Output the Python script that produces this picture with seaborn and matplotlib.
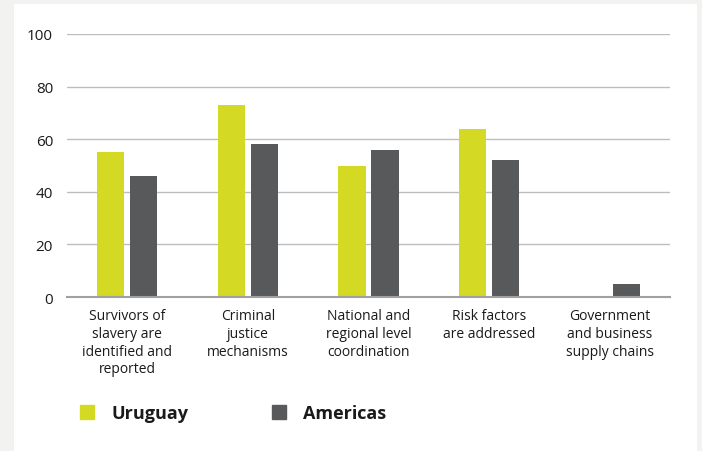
import matplotlib
matplotlib.use("Agg")
from matplotlib import pyplot as plt
from matplotlib.lines import Line2D
from matplotlib.patches import Rectangle
import pandas as pd
import seaborn as sns

categories = ["Survivors of\nslavery are\nidentified and\nreported",
              "Criminal\njustice\nmechanisms",
              "National and\nregional level\ncoordination",
              "Risk factors\nare addressed",
              "Government\nand business\nsupply chains"]
uruguay = [55, 73, 50, 64, 0]
americas = [46, 58, 56, 52, 5]
series = ["Uruguay", "Americas"]
colors = ["#d4da23", "#58595b"]

df = pd.DataFrame({
    "category": categories * 2,
    "value": uruguay + americas,
    "series": [series[0]] * 5 + [series[1]] * 5,
})

sns.set_style("white")
plt.rcParams["font.family"] = ["Open Sans", "DejaVu Sans"]

fig = plt.figure(figsize=(7.02, 4.52), dpi=100, facecolor="#f2f2f1")
fig.patches.append(Rectangle((14 / 702, 0), 683 / 702, 1 - 5 / 452,
                             transform=fig.transFigure, facecolor="white",
                             edgecolor="none", zorder=-10))
ax = fig.add_axes([67 / 702, 1 - 298 / 452, 603 / 702, 263 / 452])
ax.set_facecolor("none")

sns.barplot(data=df, x="category", y="value", hue="series",
            palette=colors, width=0.547, gap=0.18, ax=ax, legend=False,
            saturation=1, linewidth=0)

ax.set_ylim(0, 100)
ax.set_xlim(-0.5, 4.5)
ax.set_yticks(range(0, 101, 20))
ax.yaxis.grid(True, color="#bdbdbd", linewidth=1)
ax.set_axisbelow(True)
for s in ["top", "right", "left"]:
    ax.spines[s].set_visible(False)
ax.spines["bottom"].set_color("#a0a0a0")
ax.spines["bottom"].set_linewidth(1.5)
ax.set_xlabel("")
ax.set_ylabel("")
ax.tick_params(axis="y", length=0, pad=10, labelsize=11, labelcolor="#1a1a1a")
ax.tick_params(axis="x", length=0, pad=8, labelsize=10, labelcolor="#1a1a1a")
for lbl in ax.get_xticklabels():
    lbl.set_linespacing(1.25)

handles = [Line2D([], [], marker="s", linestyle="none", markersize=10,
                  markerfacecolor=c, markeredgecolor=c) for c in colors]
leg = fig.legend(handles, series, loc="center left",
                 bbox_to_anchor=(53 / 702, 1 - 414 / 452), ncol=2,
                 frameon=False, handletextpad=0.33, columnspacing=4.03,
                 prop={"size": 13, "weight": "bold"})
for t in leg.get_texts():
    t.set_color("#1a1a1a")

fig.savefig("out.png", dpi=100, facecolor=fig.get_facecolor())
